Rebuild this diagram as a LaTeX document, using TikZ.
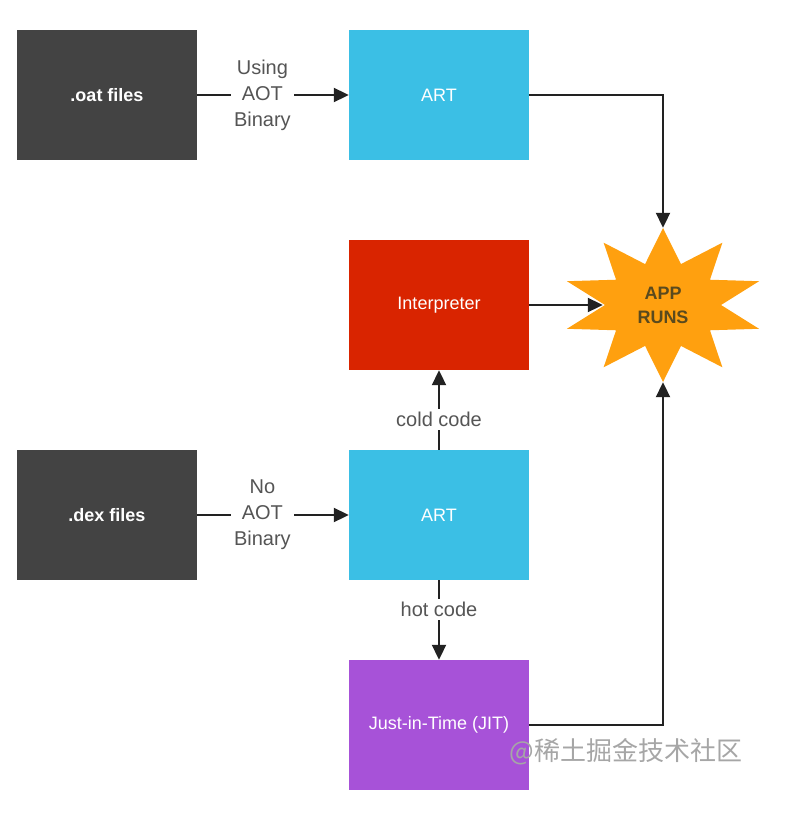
\documentclass[tikz,border=0pt]{standalone}
\usepackage{fontspec}
\setmainfont{Liberation Sans}
\newfontfamily\cjk{Noto Sans CJK SC}
\usetikzlibrary{arrows.meta}
\definecolor{filebg}{HTML}{434343}
\definecolor{artbg}{HTML}{3BBFE5}
\definecolor{interbg}{HTML}{D92400}
\definecolor{jitbg}{HTML}{A752D8}
\definecolor{starbg}{HTML}{FFA00F}
\definecolor{startext}{HTML}{5A4A1E}
\definecolor{labeltext}{HTML}{555555}
\definecolor{linecol}{HTML}{222222}
\begin{document}
\begin{tikzpicture}[x=1pt,y=-1pt]
\tikzstyle{every node}+=[font=\fontsize{18}{24}\selectfont]
\tikzstyle{box}=[minimum width=180pt,minimum height=130pt,inner sep=0pt,text=white]
\tikzstyle{files}=[box,fill=filebg,font=\fontsize{18}{24}\selectfont\bfseries]
\tikzstyle{lbl}=[fill=white,text=labeltext,align=center,inner sep=3pt,font=\fontsize{20}{26}\selectfont]
\tikzstyle{every edge}+=[draw=linecol,line width=2pt,-{Triangle[length=15pt,width=14pt]}]
\useasboundingbox (0,0) rectangle (784,832);

\node[files]            (oat)    at (107,95)  {.oat files};
\node[box,fill=artbg]   (art1)   at (439,95)  {ART};
\node[box,fill=interbg] (interp) at (439,305) {Interpreter};
\node[files]            (dex)    at (107,515) {.dex files};
\node[box,fill=artbg]   (art2)   at (439,515) {ART};
\node[box,fill=jitbg]   (jit)    at (439,725) {Just-in-Time (JIT)};

% the star
\fill[starbg,shift={(663,305)}] (90:101pt and 77pt)
  \foreach \a in {90,126,...,414} {-- (\a+18:58pt and 43pt) -- (\a+36:101pt and 77pt)} -- cycle;
\node[minimum width=120pt,minimum height=154pt,inner sep=0pt,align=center,
      text=startext,font=\fontsize{18}{24}\selectfont\bfseries] (app) at (663,305) {APP\\RUNS};

\path (oat)    edge node[lbl,pos=0.43] {Using\\AOT\\Binary} (art1)
      (dex)    edge node[lbl,pos=0.43] {No\\AOT\\Binary}    (art2)
      (art1)   edge[to path={-| (\tikztotarget)}]           (app)
      (interp) edge                                         (app)
      (jit)    edge[to path={-| (\tikztotarget)}]           (app)
      (art2)   edge node[lbl,pos=0.38] {cold code}          (interp)
               edge node[lbl,pos=0.37] {hot code}           (jit);

\node[text=black!35,font=\fontsize{26}{28}\selectfont\cjk] (mark) at (626,752) {@稀土掘金技术社区};
\end{tikzpicture}
\end{document}
